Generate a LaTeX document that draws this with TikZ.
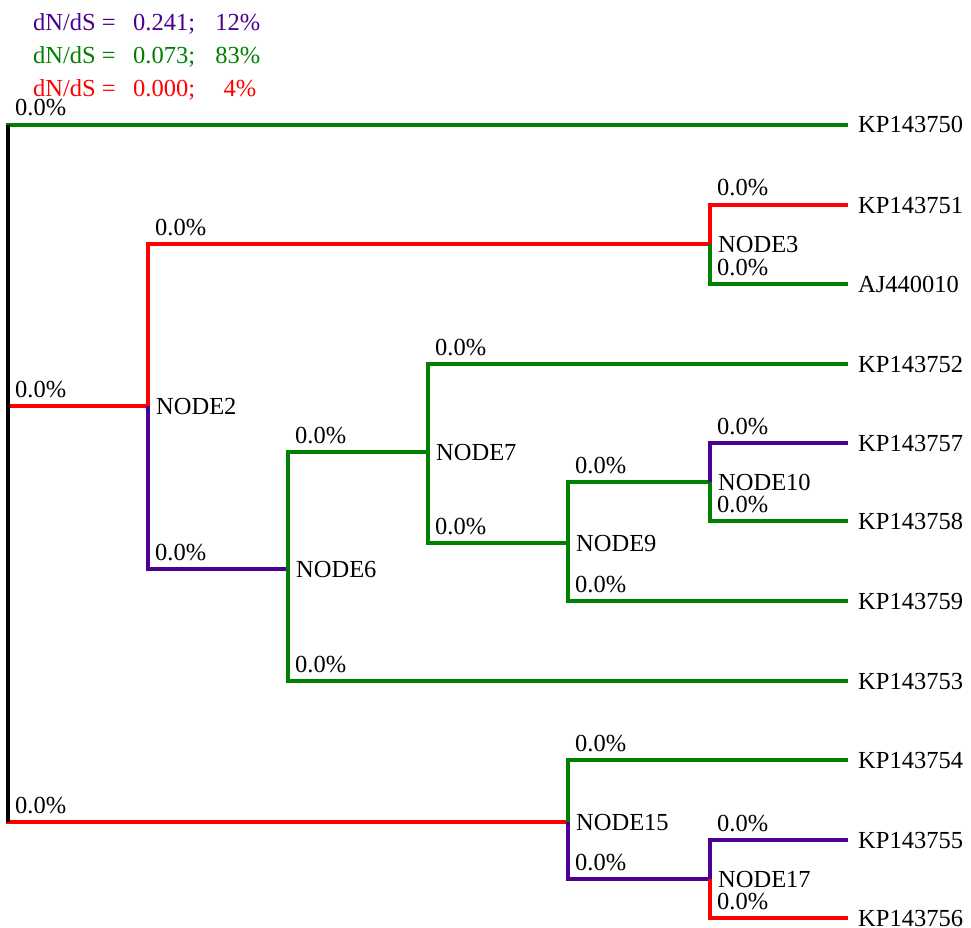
\documentclass[tikz,border=0pt]{standalone}
\usepackage{fontspec}
\setmainfont{Liberation Serif}
\usetikzlibrary{calc}
\definecolor{selpurple}{RGB}{75,0,145}
\definecolor{selgreen}{RGB}{0,128,0}
\definecolor{selred}{RGB}{255,0,0}
\tikzset{
branch/.style={line width=3.5pt, line join=miter},
txt/.style={font=\fontsize{24.5}{29}\selectfont, inner sep=0pt, anchor=base west},
}

\begin{document}
\begin{tikzpicture}[x=1pt,y=-1pt]
\useasboundingbox (0,0) rectangle (971,928);
\coordinate (root) at (8,406);
\coordinate (n2) at (148,406);
\coordinate (n3) at (710,244);
\coordinate (n6) at (288,569);
\coordinate (n7) at (428,452);
\coordinate (n9) at (568,543);
\coordinate (n10) at (710,482);
\coordinate (n15) at (568,822);
\coordinate (n17) at (710,879);
\coordinate (kp750) at (848,125);
\coordinate (kp751) at (848,205);
\coordinate (aj010) at (848,284);
\coordinate (kp752) at (848,364);
\coordinate (kp757) at (848,443);
\coordinate (kp758) at (848,521);
\coordinate (kp759) at (848,601);
\coordinate (kp753) at (848,681);
\coordinate (kp754) at (848,760);
\coordinate (kp755) at (848,840);
\coordinate (kp756) at (848,918);
\foreach \p/\c/\col in {root/kp750/selgreen, root/n2/selred, root/n15/selred,
n2/n3/selred, n2/n6/selpurple, n3/kp751/selred, n3/aj010/selgreen,
n6/n7/selgreen, n6/kp753/selgreen, n7/kp752/selgreen, n7/n9/selgreen,
n9/n10/selgreen, n9/kp759/selgreen, n10/kp757/selpurple, n10/kp758/selgreen,
n15/kp754/selgreen, n15/n17/selpurple, n17/kp755/selpurple, n17/kp756/selred}
{
\draw[branch, \col] (\p) |- (\c);
\node[txt] (pct-\c) at ($(\p |- \c)+(7,-9)$) {0.0\%};
}
\draw[branch, black] (root |- kp750) -- (root |- n15);
\foreach \n/\t in {n2/NODE2, n3/NODE3, n6/NODE6, n7/NODE7, n9/NODE9, n10/NODE10, n15/NODE15, n17/NODE17}
\node[txt] (lbl-\n) at ($(\n)+(8,8)$) {\t};
\foreach \c/\t in {kp750/KP143750, kp751/KP143751, aj010/AJ440010, kp752/KP143752, kp757/KP143757,
kp758/KP143758, kp759/KP143759, kp753/KP143753, kp754/KP143754, kp755/KP143755, kp756/KP143756}
\node[txt] (lbl-\c) at ($(\c)+(10,8)$) {\t};
\node[txt, selpurple] (key-a) at (33,31) {\makebox[100pt][l]{dN/dS =}\makebox[78pt][l]{0.241;}\makebox[49pt][r]{12\%}};
\node[txt, selgreen] (key-b) at (33,64) {\makebox[100pt][l]{dN/dS =}\makebox[78pt][l]{0.073;}\makebox[49pt][r]{83\%}};
\node[txt, selred] (key-c) at (33,97) {\makebox[100pt][l]{dN/dS =}\makebox[78pt][l]{0.000;}\makebox[45pt][r]{4\%}};
\end{tikzpicture}
\end{document}
